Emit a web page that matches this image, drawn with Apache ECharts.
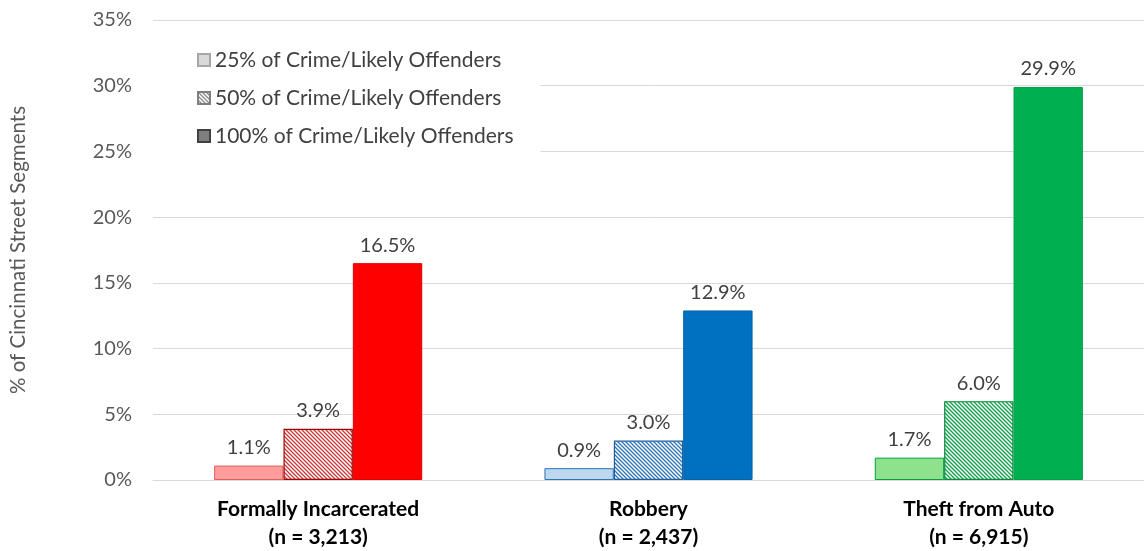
<!DOCTYPE html>
<html>
<head>
<meta charset="utf-8">
<script src="https://cdn.jsdelivr.net/npm/echarts@6/dist/echarts.min.js"></script>
<style>
  html, body { margin: 0; padding: 0; background: #fff; }
  #chart { width: 1144px; height: 551px; }
</style>
</head>
<body>
<div id="chart"></div>
<script>
// Crime categories and their sample sizes
const categories = ['Formally Incarcerated', 'Robbery', 'Theft from Auto'];
const sampleSizes = ['3,213', '2,437', '6,915'];

// Share of street segments (%) holding each share of crime / likely offenders
const seriesNames = ['25% of Crime/Likely Offenders', '50% of Crime/Likely Offenders', '100% of Crime/Likely Offenders'];
const share25 = [1.1, 0.9, 1.7];
const share50 = [3.9, 3.0, 6.0];
const share100 = [16.5, 12.9, 29.9];

const FONT = 'Lato, "Noto Sans", sans-serif';

// Diagonal hatch fill ("\" direction)
function hatch(lineColor, bg) {
  const s = 4;
  const c = document.createElement('canvas');
  c.width = s; c.height = s;
  const g = c.getContext('2d');
  g.fillStyle = bg; g.fillRect(0, 0, s, s);
  g.strokeStyle = lineColor; g.lineWidth = 1.3;
  g.beginPath();
  g.moveTo(-1, -1); g.lineTo(s + 1, s + 1);
  g.moveTo(-1, s - 1); g.lineTo(1, s + 1);
  g.moveTo(s - 1, -1); g.lineTo(s + 1, 1);
  g.stroke();
  return { image: c, repeat: 'repeat' };
}

// Per-category palette: light, hatched, solid
const palettes = [
  { light: '#FF9B9B', lightBorder: '#E06060', hatchLine: '#C83A3A', hatchBorder: '#A00000', solid: '#FF0000', solidBorder: '#E00000' },
  { light: '#BDD7EE', lightBorder: '#2E75B6', hatchLine: '#2E75B6', hatchBorder: '#1F5FA0', solid: '#0070C0', solidBorder: '#0062A8' },
  { light: '#8EE28E', lightBorder: '#00A040', hatchLine: '#0FA048', hatchBorder: '#008C3A', solid: '#00B050', solidBorder: '#00A048' }
];

function itemsFor(values, kind) {
  return values.map((v, i) => {
    const p = palettes[i];
    let style;
    if (kind === 0) style = { color: p.light, borderColor: p.lightBorder, borderWidth: 1 };
    else if (kind === 1) style = { color: hatch(p.hatchLine, '#FFFFFF'), borderColor: p.hatchBorder, borderWidth: 1.2 };
    else style = { color: p.solid, borderColor: p.solidBorder, borderWidth: 1 };
    return { value: v, itemStyle: style };
  });
}

const labelOpt = {
  show: true,
  position: 'top',
  distance: 8,
  color: '#404040',
  fontFamily: FONT,
  fontSize: 20,
  formatter: p => p.value.toFixed(1) + '%'
};

// Series-level grey styles feed the legend swatches
const legendStyles = [
  { color: '#D9D9D9', borderColor: '#A6A6A6', borderWidth: 1 },
  { color: hatch('#8C8C8C', '#FFFFFF'), borderColor: '#7F7F7F', borderWidth: 1 },
  { color: '#7F7F7F', borderColor: '#404040', borderWidth: 1 }
];

const seriesData = [share25, share50, share100];

const chart = echarts.init(document.getElementById('chart'), null, { renderer: 'canvas' });
chart.setOption({
  animation: false,
  backgroundColor: '#fff',
  textStyle: { fontFamily: FONT },
  grid: { left: 144, right: -2, top: 20, bottom: 70 },
  legend: {
    orient: 'vertical',
    left: 152,
    top: 39,
    padding: [10, 27, 16, 45],
    backgroundColor: '#FFFFFF',
    itemWidth: 12,
    itemHeight: 12,
    itemGap: 16,
    icon: 'rect',
    textStyle: { color: '#404040', fontSize: 21, fontFamily: FONT, lineHeight: 22 },
    data: seriesNames
  },
  xAxis: {
    type: 'category',
    data: categories.map((c, i) => c + '\n(n = ' + sampleSizes[i] + ')'),
    axisLine: { lineStyle: { color: '#D9D9D9', width: 1 } },
    axisTick: { show: false },
    axisLabel: {
      color: '#000000',
      fontWeight: 'bold',
      fontSize: 21,
      fontFamily: FONT,
      lineHeight: 28,
      margin: 15
    }
  },
  yAxis: {
    type: 'value',
    min: 0,
    max: 35,
    interval: 5,
    name: '% of Cincinnati Street Segments',
    nameLocation: 'middle',
    nameRotate: 90,
    nameGap: 124,
    nameTextStyle: { color: '#595959', fontSize: 20.5, fontFamily: FONT },
    axisLine: { show: false },
    axisTick: { show: false },
    axisLabel: { color: '#595959', fontSize: 20, fontFamily: FONT, margin: 21, formatter: '{value}%' },
    splitLine: { lineStyle: { color: '#D9D9D9', width: 1 } }
  },
  series: seriesData.map((vals, k) => ({
    name: seriesNames[k],
    type: 'bar',
    barGap: '0%',
    barCategoryGap: '37%',
    itemStyle: legendStyles[k],
    label: labelOpt,
    data: itemsFor(vals, k)
  }))
});
</script>
</body>
</html>
